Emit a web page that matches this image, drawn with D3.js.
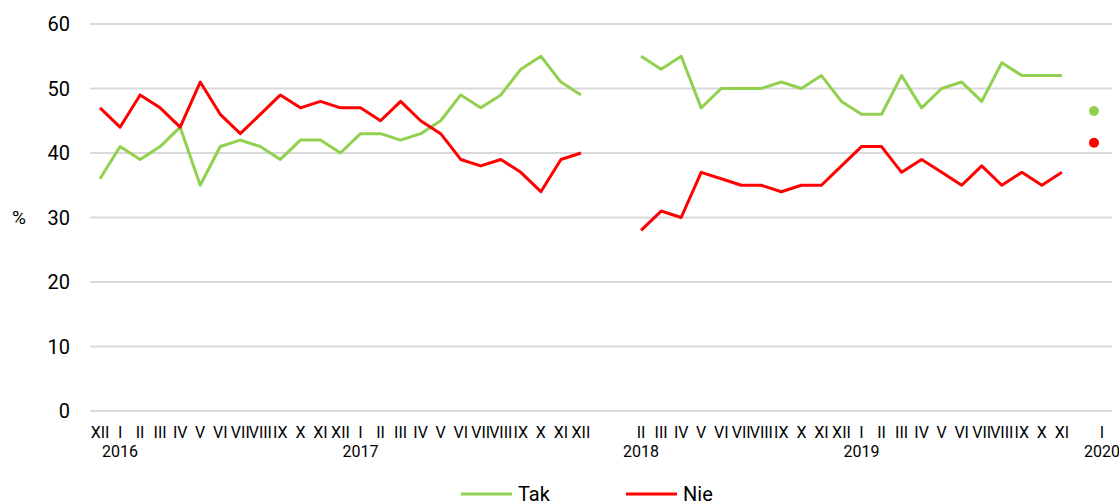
<!DOCTYPE html>
<html>
<head>
<meta charset="utf-8">
<script src="https://cdn.jsdelivr.net/npm/d3@7"></script>
<style>
  body { margin: 0; background: #fff; }
  text { font-family: Roboto, "Noto Sans", sans-serif; fill: #000; }
</style>
</head>
<body>
<div id="canvas"></div>
<script>
const w = 1119;
const h = 502;

// month labels (empty = no survey / spacer)
const months = ["XII","I","II","III","IV","V","VI","VII","VIII","IX","X","XI","XII",
  "I","II","III","IV","V","VI","VII","VIII","IX","X","XI","XII",
  "","",
  "II","III","IV","V","VI","VII","VIII","IX","X","XI","XII",
  "I","II","III","IV","V","VI","VII","VIII","IX","X","XI",
  "","I"];
const years = ["","2016","","","","","","","","","","","",
  "2017","","","","","","","","","","","",
  "","",
  "2018","","","","","","","","","","",
  "2019","","","","","","","","","","",
  "","2020"];

const tak = [36,41,39,41,44,35,41,42,41,39,42,42,40,
  43,43,42,43,45,49,47,49,53,55,51,49,
  null,null,
  55,53,55,47,50,50,50,51,50,52,48,
  46,46,52,47,50,51,48,54,52,52,52,
  null,null];
const nie = [47,44,49,47,44,51,46,43,46,49,47,48,47,
  47,45,48,45,43,39,38,39,37,34,39,40,
  null,null,
  28,31,30,37,36,35,35,34,35,35,38,
  41,41,37,39,37,35,38,35,37,35,37,
  null,null];

// single readings at the last slot (I 2020)
const lastTak = 46.5;
const lastNie = 41.6;

const yTicks = [0,10,20,30,40,50,60];
const green = "#92d050";
const red = "#ff0000";

let svg = d3.select("#canvas").append("svg").attr("width", w).attr("height", h);

let idx = d3.range(months.length);
let x = d3.scaleBand().domain(idx).range([90, 1112]);
let xc = (i) => x(i) + x.bandwidth() / 2;
let y = d3.scaleLinear().domain([0, 60]).range([411, 24]);

// grid + y labels
svg.selectAll("line.grid").data(yTicks)
  .enter().append("line").attr("class", "grid")
  .attr("x1", 90).attr("x2", 1112)
  .attr("y1", (d) => y(d)).attr("y2", (d) => y(d))
  .attr("stroke", "#d9d9d9").attr("stroke-width", 2);

svg.selectAll("text.ylab").data(yTicks)
  .enter().append("text").attr("class", "ylab")
  .attr("x", 70).attr("y", (d) => y(d))
  .attr("text-anchor", "end").attr("dominant-baseline", "central")
  .attr("font-size", 20)
  .text((d) => d);

svg.append("text").attr("x", 19).attr("y", y(30))
  .attr("text-anchor", "middle").attr("dominant-baseline", "central")
  .attr("font-size", 19).text("%");

// x labels
svg.selectAll("text.mon").data(idx)
  .enter().append("text").attr("class", "mon")
  .attr("x", (i) => xc(i)).attr("y", 438)
  .attr("text-anchor", "middle").attr("font-size", 16)
  .text((i) => months[i]);

svg.selectAll("text.yr").data(idx.filter((i) => years[i] != ""))
  .enter().append("text").attr("class", "yr")
  .attr("x", (i) => xc(i)).attr("y", 457)
  .attr("text-anchor", "middle").attr("font-size", 16)
  .text((i) => years[i]);

// lines
function drawLine(vals, color) {
  let line = d3.line()
    .defined((i) => vals[i] != null)
    .x((i) => xc(i)).y((i) => y(vals[i]));
  svg.append("path").datum(idx)
    .attr("d", line)
    .attr("fill", "none").attr("stroke", color)
    .attr("stroke-width", 3).attr("stroke-linejoin", "round");
}
drawLine(tak, green);
drawLine(nie, red);

// last readings as dots
let last = idx.length - 1;
svg.selectAll("circle.last").data([[lastTak, green], [lastNie, red]])
  .enter().append("circle").attr("class", "last")
  .attr("cx", xc(last) - 8).attr("cy", (d) => y(d[0]))
  .attr("r", 5).attr("fill", (d) => d[1]);

// legend
let legend = [["Tak", green, 461], ["Nie", red, 626]];
let lg = svg.selectAll("g.leg").data(legend).enter().append("g").attr("class", "leg")
  .attr("transform", (d) => "translate(" + d[2] + ",494)");
lg.append("line").attr("x1", 0).attr("x2", 51).attr("y1", 0).attr("y2", 0)
  .attr("stroke", (d) => d[1]).attr("stroke-width", 3);
lg.append("text").attr("x", 57).attr("y", 7).attr("font-size", 20).text((d) => d[0]);
</script>
</body>
</html>
